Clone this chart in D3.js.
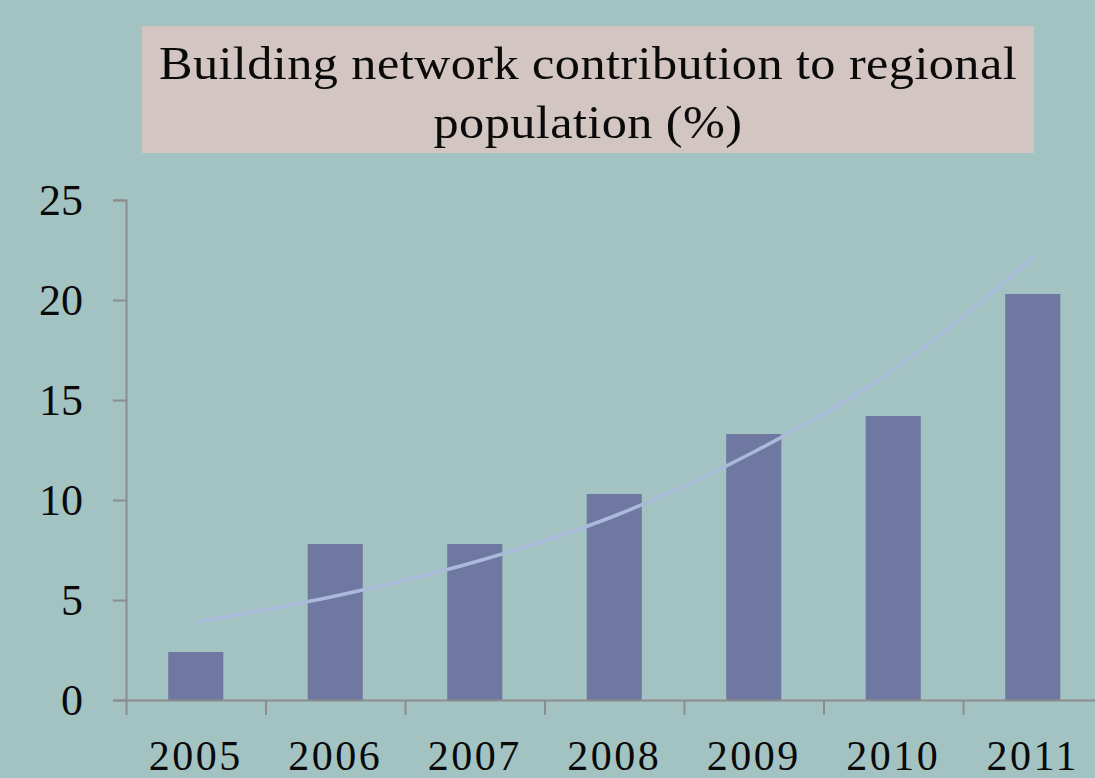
<!DOCTYPE html>
<html>
<head>
<meta charset="utf-8">
<script src="https://cdn.jsdelivr.net/npm/d3@7"></script>
<style>
  html, body { margin: 0; padding: 0; background: #a3c3c2; }
  svg { display: block; }
</style>
</head>
<body>
<div id="chart"></div>
<script>
// data
const years = ["2005", "2006", "2007", "2008", "2009", "2010", "2011"];
const contribution = [2.4, 7.8, 7.8, 10.3, 13.3, 14.2, 20.3];
const trend = [3.9, 5.2, 6.9, 9.2, 12.4, 16.5, 22.1];
const yTicks = [0, 5, 10, 15, 20, 25];
const titleLines = ["Building network contribution to regional", "population (%)"];

const width = 1095, height = 778;

const svg = d3.select("#chart")
    .append("svg")
    .attr("width", width)
    .attr("height", height);

svg.append("rect")
    .attr("width", width)
    .attr("height", height)
    .attr("fill", "#a3c3c2");

// title box
svg.append("rect")
    .attr("x", 142)
    .attr("y", 26)
    .attr("width", 892)
    .attr("height", 127)
    .attr("fill", "#d3c6c2");

// title text, stretched a little to mimic the wider original face
svg.append("g")
    .selectAll("text")
    .data(titleLines)
    .enter()
    .append("text")
    .attr("transform", (d, i) => `translate(588,${79 + i * 59}) scale(1.07,1)`)
    .attr("text-anchor", "middle")
    .style("font-family", "'Liberation Serif', serif")
    .style("font-size", "47px")
    .style("letter-spacing", "0.4px")
    .attr("fill", "#0a0a0a")
    .text(d => d);

// scales
const xScale = d3.scaleBand()
    .domain(years)
    .range([126, 1102.5])
    .padding(0);

const xEdges = d3.scaleLinear()
    .domain([0, years.length])
    .range([126, 1102.5]);

const yScale = d3.scaleLinear()
    .domain([0, 25])
    .range([700, 200]);

const barWidth = xScale.bandwidth() * 0.395;
const axisColor = "#8c8c8c";

// bars
svg.append("g")
    .selectAll("rect")
    .data(years)
    .enter()
    .append("rect")
    .attr("x", d => xScale(d) + (xScale.bandwidth() - barWidth) / 2)
    .attr("y", (d, i) => yScale(contribution[i]))
    .attr("width", barWidth)
    .attr("height", (d, i) => yScale(0) - yScale(contribution[i]))
    .attr("fill", "#6f78a0");

// trend line
const line = d3.line()
    .x((d, i) => xScale(years[i]) + xScale.bandwidth() / 2)
    .y(d => yScale(d))
    .curve(d3.curveMonotoneX);

svg.append("path")
    .datum(trend)
    .attr("d", line)
    .attr("fill", "none")
    .attr("stroke", "#a9bada")
    .attr("stroke-width", 3.5)
    .attr("stroke-linecap", "round");

// y axis
const yAxis = svg.append("g")
    .attr("transform", "translate(126,0)")
    .call(d3.axisLeft(yScale)
        .tickValues(yTicks)
        .tickSize(13)
        .tickPadding(30));

yAxis.selectAll("text")
    .style("font-family", "'Liberation Serif', serif")
    .style("font-size", "44px")
    .attr("fill", "#0a0a0a");

// x axis: ticks on band edges
svg.append("g")
    .attr("transform", "translate(0,700)")
    .call(d3.axisBottom(xEdges)
        .tickValues(d3.range(years.length + 1))
        .tickFormat("")
        .tickSize(15)
        .tickSizeOuter(0));

// x labels centred in bands
const xLabels = svg.append("g")
    .attr("transform", "translate(0,700)")
    .call(d3.axisBottom(xScale)
        .tickSize(0)
        .tickPadding(40));
xLabels.select(".domain").remove();
xLabels.selectAll("text")
    .style("font-family", "'Liberation Serif', serif")
    .style("font-size", "42px")
    .style("letter-spacing", "2.5px")
    .attr("fill", "#0a0a0a");

svg.selectAll(".domain, .tick line")
    .attr("stroke", axisColor)
    .attr("stroke-width", 2);
</script>
</body>
</html>
